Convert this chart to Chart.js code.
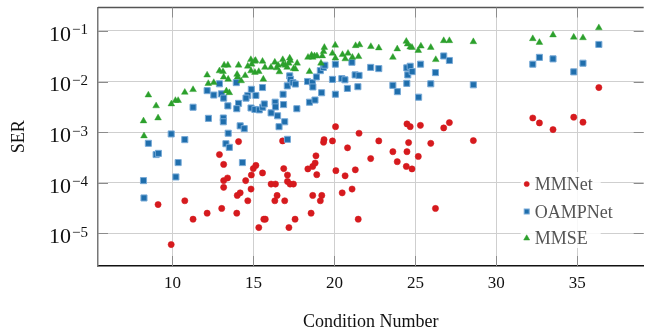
<!DOCTYPE html>
<html>
<head>
<meta charset="utf-8">
<script src="https://cdn.jsdelivr.net/npm/chart.js@4.4.1/dist/chart.umd.min.js"></script>
<style>
  html, body { margin: 0; padding: 0; background: #fff; }
  #wrap { width: 649px; height: 331px; }
</style>
</head>
<body>
<div id="wrap"><canvas id="serChart"></canvas></div>
<script>
// tick positions
const xTicks = [10, 15, 20, 25, 30, 35];
const yTicks = [1e-5, 1e-4, 1e-3, 1e-2, 1e-1];

// MMNet (red circles)
const mmnetCond = [
  9.11, 9.92, 10.76, 11.27, 12.14, 12.90, 13.04, 13.16, 13.16, 13.40,
  13.16, 13.97, 14.00, 14.18, 14.08, 14.52, 14.65, 14.85, 14.87, 14.99,
  15.15, 15.33, 15.56, 15.64, 15.73, 16.09, 16.36, 16.46, 16.32, 16.80,
  16.87, 17.10, 17.10, 17.26, 17.47, 16.93, 17.19, 17.57, 18.36, 18.66,
  18.81, 18.86, 18.91, 18.66, 19.22, 19.13, 18.56, 19.36, 19.33, 19.88,
  20.07, 20.09, 20.66, 20.81, 21.29, 20.48, 21.09, 21.47, 21.52, 22.24,
  22.74, 23.61, 23.88, 24.44, 24.48, 24.48, 24.68, 24.58, 24.79, 25.18,
  25.31, 25.95, 26.75, 27.10, 28.58, 26.24, 32.25, 32.66, 33.50, 34.78,
  35.35, 36.33
];
const mmnetSER = [
  3.7e-5, 6.0e-6, 4.4e-5, 1.9e-5, 2.5e-5, 3.6e-4, 3.1e-5, 2.3e-4, 1.1e-4, 1.24e-4,
  8.1e-5, 2.5e-5, 5.6e-5, 6.3e-5, 6.5e-4, 1.1e-4, 4.4e-5, 7.5e-5, 1.42e-4, 1.9e-4,
  2.2e-4, 1.3e-5, 1.56e-4, 1.9e-5, 1.9e-5, 9.4e-5, 9.4e-5, 5.6e-5, 4.4e-5, 6.7e-4,
  1.9e-4, 1.42e-4, 1.06e-4, 9.4e-5, 9.4e-5, 4.4e-5, 1.3e-5, 1.9e-5, 1.87e-4, 2.1e-4,
  2.45e-4, 3.4e-4, 1.44e-4, 5.6e-5, 5.6e-5, 4.4e-5, 2.5e-5, 7.1e-4, 6.3e-4, 6.7e-4,
  1.28e-3, 1.73e-4, 1.37e-4, 4.9e-4, 1.8e-4, 6.3e-5, 7.5e-5, 1.9e-5, 9.5e-4, 3.0e-4,
  6.7e-4, 4.1e-4, 2.6e-4, 2.1e-4, 4.1e-4, 1.45e-3, 1.28e-3, 6.2e-4, 1.87e-4, 3.3e-4,
  1.36e-3, 6.0e-4, 1.21e-3, 1.54e-3, 6.8e-4, 3.1e-5, 1.9e-3, 1.52e-3, 1.12e-3, 1.97e-3,
  1.57e-3, 7.6e-3
];

// OAMPNet (blue squares)
const oampCond = [
  8.21, 8.24, 8.51, 8.99, 9.13, 9.92, 10.21, 10.35, 10.76, 11.27,
  12.14, 12.22, 12.55, 12.90, 13.02, 13.16, 13.14, 13.14, 13.42, 13.44,
  13.30, 13.51, 13.94, 14.08, 13.97, 14.18, 14.43, 14.32, 14.87, 14.65,
  14.54, 15.15, 14.85, 15.09, 15.36, 15.56, 15.57, 15.67, 16.09, 16.34,
  16.36, 16.49, 16.86, 16.83, 17.09, 17.24, 17.29, 17.44, 17.59, 17.68,
  16.93, 16.58, 17.10, 18.34, 18.64, 18.67, 18.46, 18.80, 19.21, 18.89,
  19.13, 19.32, 19.41, 20.06, 19.88, 20.46, 20.65, 20.80, 20.06, 21.08,
  21.28, 21.52, 21.45, 22.24, 22.74, 23.61, 23.89, 24.47, 24.68, 24.53,
  24.80, 24.47, 25.20, 25.32, 26.24, 25.95, 26.75, 27.10, 28.58, 32.25,
  32.66, 33.50, 34.78, 35.35, 36.33
];
const oampSER = [
  1.1e-4, 5.0e-5, 6.0e-4, 3.6e-4, 3.8e-4, 9.2e-4, 1.3e-4, 2.5e-4, 7.1e-4, 3.1e-3,
  6.6e-3, 1.87e-3, 5.4e-3, 9.0e-3, 5.7e-3, 4.7e-3, 1.9e-3, 1.6e-3, 3.3e-3, 9.5e-4,
  5.9e-4, 5.0e-4, 9.5e-3, 3.7e-3, 2.9e-3, 1.33e-3, 1.17e-3, 2.5e-4, 7.0e-3, 5.3e-3,
  4.7e-3, 5.3e-3, 3.0e-3, 2.8e-3, 2.75e-3, 7.6e-3, 3.1e-3, 3.6e-3, 2.4e-3, 3.9e-3,
  3.15e-3, 2.1e-3, 3.5e-3, 5.6e-3, 8.2e-3, 1.29e-2, 1.1e-2, 9.5e-3, 8.9e-3, 2.9e-3,
  1.6e-3, 1.28e-3, 7.2e-4, 1.0e-2, 9.5e-3, 7.8e-3, 3.9e-3, 4.3e-3, 6.0e-3, 1.23e-2,
  1.64e-2, 1.9e-2, 2.1e-2, 2.2e-2, 1.1e-2, 1.14e-2, 1.08e-2, 7.3e-3, 5.6e-3, 2.4e-2,
  1.35e-2, 1.32e-2, 7.9e-3, 1.9e-2, 1.8e-2, 8.4e-3, 6.3e-3, 1.86e-2, 2.0e-2, 1.35e-2,
  1.57e-2, 9.2e-3, 4.9e-3, 2.2e-2, 1.5e-2, 9.0e-3, 3.2e-2, 2.6e-2, 8.6e-3, 2.2e-2,
  3.0e-2, 2.8e-2, 1.55e-2, 2.3e-2, 5.4e-2
];

// MMSE (green triangles)
const mmseCond = [
  8.21, 8.24, 8.51, 8.99, 9.11, 9.93, 10.18, 10.35, 10.76, 11.27,
  12.14, 12.21, 12.55, 12.90, 13.12, 13.19, 13.42, 13.16, 13.44, 13.33,
  13.51, 14.08, 13.99, 14.02, 14.24, 14.49, 14.65, 14.84, 14.89, 15.07,
  14.85, 15.09, 15.33, 15.13, 15.56, 15.71, 15.61, 16.08, 16.32, 16.44,
  16.52, 16.60, 16.81, 16.83, 16.97, 17.08, 17.24, 17.27, 17.18, 17.48,
  17.59, 17.70, 18.37, 18.59, 18.66, 18.77, 18.92, 18.46, 19.17, 19.25,
  19.33, 19.38, 20.05, 19.88, 20.06, 20.50, 20.84, 20.67, 21.11, 21.31,
  21.55, 21.49, 22.25, 22.74, 23.88, 23.61, 24.44, 24.52, 24.68, 24.79,
  25.18, 25.34, 25.95, 26.26, 26.75, 27.10, 28.58, 32.25, 32.66, 33.50,
  34.78, 35.35, 36.33
];
const mmseSER = [
  1.66e-3, 8.4e-4, 5.4e-3, 3.3e-3, 1.9e-3, 3.6e-3, 4.2e-3, 4.2e-3, 6.1e-3, 6.9e-3,
  1.34e-2, 9.1e-3, 9.5e-3, 1.62e-2, 1.57e-2, 2.1e-2, 2.1e-2, 1.22e-2, 1.11e-2, 6.5e-3,
  6.0e-3, 2.1e-2, 1.38e-2, 1.22e-2, 1.03e-2, 1.31e-2, 2.0e-2, 2.7e-2, 2.2e-2, 2.5e-2,
  1.62e-2, 1.51e-2, 1.57e-2, 2.6e-2, 2.5e-2, 1.9e-2, 1.11e-2, 1.9e-2, 2.4e-2, 1.86e-2,
  2.1e-2, 1.55e-2, 2.7e-2, 2.2e-2, 2.1e-2, 1.9e-2, 2.9e-2, 2.6e-2, 2.3e-2, 1.8e-2,
  1.76e-2, 2.3e-2, 3.0e-2, 3.3e-2, 3.0e-2, 3.2e-2, 3.2e-2, 1.57e-2, 2.3e-2, 3.2e-2,
  3.9e-2, 4.7e-2, 5.2e-2, 3.6e-2, 2.9e-2, 3.4e-2, 3.6e-2, 2.8e-2, 3.0e-2, 5.1e-2,
  5.3e-2, 3.1e-2, 4.9e-2, 4.6e-2, 4.4e-2, 3.0e-2, 6.2e-2, 5.5e-2, 4.8e-2, 4.7e-2,
  4.1e-2, 5.0e-2, 4.7e-2, 2.7e-2, 6.4e-2, 6.4e-2, 6.1e-2, 7.0e-2, 5.9e-2, 8.3e-2,
  7.5e-2, 7.3e-2, 0.115
];

const serif = "'Liberation Serif', 'DejaVu Serif', serif";
const red = 'rgb(214, 26, 30)';
const blue = 'rgb(31, 110, 172)';
const green = 'rgb(44, 160, 44)';

function toPoints(xs, ys) {
  return xs.map((x, i) => ({ x: x, y: ys[i] }));
}

// frame top, inner tick marks, y labels with exponent, legend inside the plot
const extras = {
  id: 'extras',
  afterDraw(chart) {
    const ctx = chart.ctx;
    const a = chart.chartArea;
    const xs = chart.scales.x;
    const ys = chart.scales.y;
    ctx.save();

    ctx.strokeStyle = '#555';
    ctx.lineWidth = 1.5;
    ctx.beginPath();
    ctx.moveTo(a.left, a.top);
    ctx.lineTo(a.right, a.top);
    ctx.stroke();

    ctx.strokeStyle = '#8c8c8c';
    ctx.lineWidth = 1;
    ctx.beginPath();
    xTicks.forEach(v => {
      const px = Math.round(xs.getPixelForValue(v)) + 0.5;
      ctx.moveTo(px, a.bottom); ctx.lineTo(px, a.bottom - 10);
      ctx.moveTo(px, a.top); ctx.lineTo(px, a.top + 10);
    });
    yTicks.forEach(v => {
      const py = Math.round(ys.getPixelForValue(v)) + 0.5;
      ctx.moveTo(a.left, py); ctx.lineTo(a.left + 10, py);
      ctx.moveTo(a.right, py); ctx.lineTo(a.right - 10, py);
    });
    ctx.stroke();

    // y tick labels 10^-n
    ctx.fillStyle = '#111';
    ctx.textBaseline = 'alphabetic';
    yTicks.forEach(v => {
      const py = ys.getPixelForValue(v);
      const exp = Math.round(Math.log10(v));
      ctx.font = '22px ' + serif;
      ctx.textAlign = 'right';
      ctx.fillText('10', a.left - 27, py + 9.8);
      ctx.font = '15px ' + serif;
      ctx.textAlign = 'left';
      ctx.fillText('\u2212' + Math.abs(exp), a.left - 26, py + 3.5);
    });

    // legend
    const lx = a.right - 117;
    const rows = [a.bottom - 82, a.bottom - 54.5, a.bottom - 28];
    ctx.fillStyle = 'rgba(255,255,255,0.85)';
    ctx.fillRect(lx - 6, rows[0] - 12, 80, 76);
    const labels = ['MMNet', 'OAMPNet', 'MMSE'];
    rows.forEach((ry, i) => {
      ctx.lineWidth = 1;
      if (i === 0) {
        ctx.fillStyle = red; ctx.strokeStyle = 'rgba(214,26,30,0.5)';
        ctx.beginPath(); ctx.arc(lx, ry, 2.6, 0, Math.PI * 2); ctx.fill(); ctx.stroke();
      } else if (i === 1) {
        ctx.fillStyle = blue; ctx.strokeStyle = 'rgba(120,170,215,1)';
        ctx.fillRect(lx - 2.5, ry - 2.5, 5, 5); ctx.strokeRect(lx - 2.5, ry - 2.5, 5, 5);
      } else {
        ctx.fillStyle = green; ctx.strokeStyle = 'rgba(44,160,44,0.5)';
        ctx.beginPath(); ctx.moveTo(lx, ry - 3.2); ctx.lineTo(lx + 3, ry + 2); ctx.lineTo(lx - 3, ry + 2);
        ctx.closePath(); ctx.fill(); ctx.stroke();
      }
      ctx.fillStyle = '#555';
      ctx.font = '18px ' + serif;
      ctx.textAlign = 'left';
      ctx.fillText(labels[i], lx + 8, ry + 6);
    });
    ctx.restore();
  }
};

const ctx = document.getElementById('serChart').getContext('2d');
const serChart = new Chart(ctx, {
  type: 'scatter',
  data: {
    datasets: [{
      label: 'MMNet',
      data: toPoints(mmnetCond, mmnetSER),
      pointStyle: 'circle',
      pointRadius: 3.1,
      backgroundColor: red,
      borderColor: 'rgba(214,26,30,0.55)',
      borderWidth: 1,
      order: 2
    }, {
      label: 'OAMPNet',
      data: toPoints(oampCond, oampSER),
      pointStyle: 'rect',
      pointRadius: 4.3,
      backgroundColor: blue,
      borderColor: 'rgba(120,170,215,1)',
      borderWidth: 1,
      order: 1
    }, {
      label: 'MMSE',
      data: toPoints(mmseCond, mmseSER),
      pointStyle: 'triangle',
      pointRadius: 3.9,
      backgroundColor: green,
      borderColor: 'rgba(44,160,44,0.5)',
      borderWidth: 0.8,
      order: 0
    }]
  },
  options: {
    responsive: true,
    maintainAspectRatio: false,
    animation: false,
    devicePixelRatio: 1,
    layout: { padding: { top: 7.5, right: 0, left: 0, bottom: 0 } },
    plugins: {
      legend: { display: false },
      tooltip: { enabled: false }
    },
    scales: {
      x: {
        type: 'linear',
        min: 5.4,
        max: 39.1,
        afterBuildTicks: s => { s.ticks = xTicks.map(v => ({ value: v })); },
        afterFit: s => { s.height = 65; },
        grid: { color: '#cfcfcf', lineWidth: 1, drawTicks: false },
        border: { color: '#111', width: 1.5 },
        ticks: {
          padding: 7,
          maxRotation: 0,
          autoSkip: false,
          color: '#111',
          font: { family: serif, size: 17 },
          callback: v => String(v)
        },
        title: {
          display: true,
          text: 'Condition Number',
          color: '#111',
          font: { family: serif, size: 18, lineHeight: 1 },
          padding: { top: 0, bottom: 0 }
        }
      },
      y: {
        type: 'logarithmic',
        min: 2.26e-6,
        max: 0.29,
        afterBuildTicks: s => { s.ticks = yTicks.map(v => ({ value: v })); },
        afterFit: s => { s.width = 98; },
        grid: { color: '#cfcfcf', lineWidth: 1, drawTicks: false },
        border: { color: '#777', width: 1.5 },
        ticks: { display: false },
        title: {
          display: true,
          text: 'SER',
          color: '#111',
          font: { family: serif, size: 18, lineHeight: 1 },
          padding: { top: 10, bottom: 0 }
        }
      }
    }
  },
  plugins: [extras]
});
</script>
</body>
</html>
